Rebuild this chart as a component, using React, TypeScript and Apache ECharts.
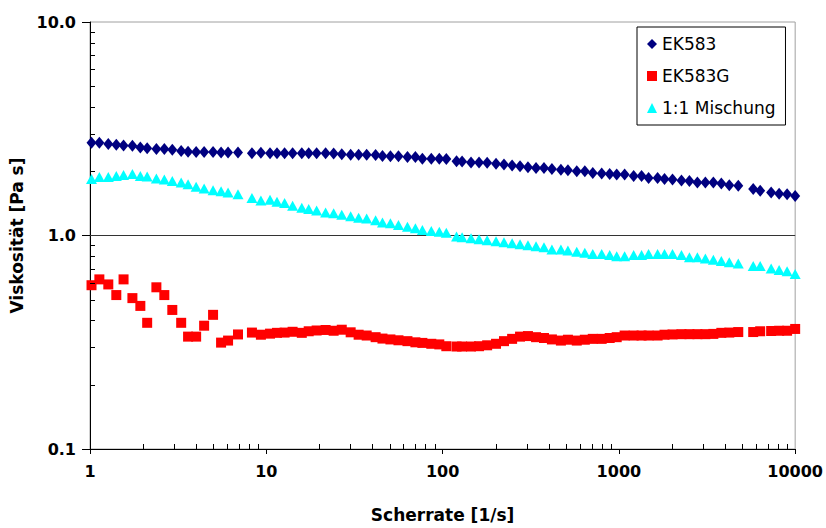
import React, { useEffect, useRef } from "react";
import * as echarts from "echarts";

// Scherrate [1/s]
const shearRate = [
  1.02, 1.13, 1.27, 1.41, 1.55, 1.74, 1.93, 2.11, 2.38, 2.64,
  2.93, 3.29, 3.6, 4.0, 4.44, 4.99, 5.54, 6.07, 6.91, 8.29,
  9.32, 10.5, 11.5, 12.7, 14.1, 15.9, 17.4, 19.3, 21.7, 24.1,
  26.8, 30.1, 33.4, 37.1, 41.7, 45.6, 50.6, 56.2, 63.2, 70.1,
  76.8, 86.3, 95.8, 105, 120, 129, 145, 161, 179, 201,
  223, 248, 275, 305, 339, 376, 417, 469, 514, 577,
  641, 711, 799, 887, 972, 1078, 1213, 1345, 1474, 1658,
  1815, 2015, 2265, 2513, 2789, 3095, 3435, 3812, 4230, 4756,
  5781, 6332, 7307, 8110, 9000, 10000,
];

// Viskosität [Pa s]
const ek583 = [
  2.72, 2.72, 2.68, 2.66, 2.64, 2.63, 2.58, 2.56, 2.54, 2.54,
  2.52, 2.49, 2.47, 2.46, 2.46, 2.46, 2.45, 2.45, 2.45, 2.43,
  2.44, 2.43, 2.43, 2.43, 2.43, 2.43, 2.43, 2.43, 2.43, 2.42,
  2.4, 2.39, 2.39, 2.39, 2.38, 2.36, 2.35, 2.35, 2.33, 2.33,
  2.29, 2.29, 2.29, 2.28, 2.23, 2.22, 2.2, 2.2, 2.19, 2.17,
  2.15, 2.13, 2.11, 2.09, 2.07, 2.07, 2.05, 2.03, 2.02, 2.0,
  2.0, 1.96, 1.95, 1.94, 1.93, 1.93, 1.9, 1.9, 1.86, 1.86,
  1.84, 1.83, 1.81, 1.8, 1.77, 1.77, 1.77, 1.75, 1.72, 1.71,
  1.65, 1.62, 1.59, 1.57, 1.56, 1.53,
];

const ek583g = [
  0.585, 0.623, 0.59, 0.526, 0.623, 0.509, 0.468, 0.39, 0.572, 0.526,
  0.448, 0.39, 0.336, 0.336, 0.378, 0.425, 0.315, 0.322, 0.344, 0.351,
  0.343, 0.347, 0.35, 0.351, 0.354, 0.35, 0.356, 0.359, 0.361, 0.358,
  0.362, 0.352, 0.343, 0.34, 0.334, 0.329, 0.326, 0.323, 0.32, 0.316,
  0.314, 0.311, 0.309, 0.303, 0.302, 0.302, 0.302, 0.303, 0.306, 0.311,
  0.32, 0.328, 0.336, 0.338, 0.334, 0.331, 0.326, 0.322, 0.325, 0.322,
  0.325, 0.328, 0.328, 0.331, 0.334, 0.34, 0.34, 0.34, 0.34, 0.34,
  0.343, 0.344, 0.345, 0.345, 0.345, 0.345, 0.346, 0.35, 0.351, 0.353,
  0.353, 0.356, 0.357, 0.358, 0.358, 0.365,
];

const mischung = [
  1.84, 1.88, 1.88, 1.9, 1.92, 1.94, 1.9, 1.89, 1.85, 1.83,
  1.8, 1.77, 1.74, 1.69, 1.66, 1.63, 1.61, 1.59, 1.56, 1.5,
  1.46, 1.47, 1.44, 1.42, 1.38, 1.35, 1.33, 1.31, 1.28, 1.27,
  1.25, 1.23, 1.21, 1.2, 1.18, 1.15, 1.14, 1.12, 1.1, 1.08,
  1.06, 1.05, 1.04, 1.03, 0.99, 0.98, 0.97, 0.96, 0.95, 0.94,
  0.93, 0.92, 0.91, 0.9, 0.89, 0.88, 0.86, 0.86, 0.85, 0.84,
  0.83, 0.82, 0.82, 0.81, 0.8, 0.8, 0.81, 0.81, 0.82, 0.82,
  0.82, 0.82, 0.81, 0.79, 0.79, 0.78, 0.77, 0.76, 0.75, 0.74,
  0.72, 0.72, 0.7, 0.69, 0.68, 0.66,
];

const seriesNames = ["EK583", "EK583G", "1:1 Mischung"];
const seriesColors = ["#000080", "#ff0000", "#00ffff"];
const xDecades = [1, 10, 100, 1000];
const yDecades = [0.1, 1];
const minorSteps = [2, 3, 4, 5, 6, 7, 8, 9];

const FONT = "DejaVu Sans";

export default function App() {
  const ref = useRef<HTMLDivElement>(null);

  useEffect(() => {
    document.body.style.margin = "0";
    const chart = echarts.init(ref.current as HTMLDivElement, null, { renderer: "svg" });

    const pairs = (ys: number[]) => shearRate.map((x, i) => [x, ys[i]]);
    const minorX: number[][] = [];
    xDecades.forEach((d) => minorSteps.forEach((k) => minorX.push([d * k, 0.1])));
    const minorY: number[][] = [];
    yDecades.forEach((d) => minorSteps.forEach((k) => minorY.push([1, +(d * k).toFixed(3)])));

    const tickLine = (dir: "x" | "y") => (params: any, api: any) => {
      const p = api.coord([api.value(0), api.value(1)]);
      if (dir === "x") {
        const x = Math.round(p[0]) + 0.5;
        return {
          type: "line",
          shape: { x1: x, y1: p[1], x2: x, y2: p[1] - 5 },
          style: { stroke: "#000", lineWidth: 1 },
        };
      }
      const y = Math.round(p[1]) + 0.5;
      return {
        type: "line",
        shape: { x1: p[0], y1: y, x2: p[0] + 5, y2: y },
        style: { stroke: "#000", lineWidth: 1 },
      };
    };

    const option: any = {
      animation: false,
      backgroundColor: "#fff",
      textStyle: { fontFamily: FONT },
      grid: {
        left: 90,
        right: 29,
        top: 22,
        bottom: 73,
        show: true,
        borderColor: "#a0a0a0",
        borderWidth: 1,
        backgroundColor: "transparent",
      },
      legend: {
        data: [
          { name: seriesNames[0], icon: "diamond" },
          { name: seriesNames[1], icon: "rect" },
          { name: seriesNames[2], icon: "triangle" },
        ],
        orient: "vertical",
        left: 637,
        top: 27,
        padding: [7, 10, 7, 10],
        itemGap: 12,
        itemWidth: 10,
        itemHeight: 10,
        borderColor: "#000",
        borderWidth: 1,
        backgroundColor: "#fff",
        selectedMode: false,
        textStyle: { fontFamily: FONT, fontSize: 17, color: "#000", lineHeight: 20 },
      },
      xAxis: {
        type: "log",
        logBase: 10,
        min: 1,
        max: 10000,
        name: "Scherrate [1/s]",
        nameLocation: "middle",
        nameGap: 57,
        nameTextStyle: { fontFamily: FONT, fontSize: 17, fontWeight: "bold", color: "#000" },
        axisLine: { show: true, lineStyle: { color: "#000", width: 1 } },
        axisTick: { show: true, length: 5, lineStyle: { color: "#000" } },
        axisLabel: {
          margin: 14,
          fontFamily: FONT,
          fontSize: 16,
          fontWeight: "bold",
          color: "#000",
          formatter: (v: number) => String(Math.round(v)),
        },
        splitLine: { show: false },
      },
      yAxis: {
        type: "log",
        logBase: 10,
        min: 0.1,
        max: 10,
        name: "Viskosität [Pa s]",
        nameLocation: "middle",
        nameGap: 53,
        nameTextStyle: { fontFamily: FONT, fontSize: 17, fontWeight: "bold", color: "#000" },
        axisLine: { show: true, lineStyle: { color: "#000", width: 1 } },
        axisTick: { show: true, length: 8, lineStyle: { color: "#000" } },
        axisLabel: {
          margin: 14,
          fontFamily: FONT,
          fontSize: 16,
          fontWeight: "bold",
          color: "#000",
          formatter: (v: number) => v.toFixed(1),
        },
        splitLine: { show: false },
      },
      series: [
        {
          name: seriesNames[0],
          type: "scatter",
          symbol: "diamond",
          symbolSize: [10, 12],
          clip: false,
          itemStyle: { color: seriesColors[0], opacity: 1 },
          data: pairs(ek583),
          z: 4,
          markLine: {
            silent: true,
            symbol: "none",
            label: { show: false },
            lineStyle: { color: "#333", width: 1, type: "solid" },
            data: [{ yAxis: 1 }],
            z: 1,
          },
        },
        {
          name: seriesNames[1],
          type: "scatter",
          symbol: "rect",
          symbolSize: 10,
          clip: false,
          itemStyle: { color: seriesColors[1], opacity: 1 },
          data: pairs(ek583g),
          z: 4,
        },
        {
          name: seriesNames[2],
          type: "scatter",
          symbol: "triangle",
          symbolSize: [11, 10],
          clip: false,
          itemStyle: { color: seriesColors[2], opacity: 1 },
          data: pairs(mischung),
          z: 4,
        },
        {
          name: "minorX",
          type: "custom",
          silent: true,
          clip: false,
          data: minorX,
          renderItem: tickLine("x"),
          z: 5,
        },
        {
          name: "minorY",
          type: "custom",
          silent: true,
          clip: false,
          data: minorY,
          renderItem: tickLine("y"),
          z: 5,
        },
      ],
    };

    chart.setOption(option);
    return () => chart.dispose();
  }, []);

  return <div ref={ref} style={{ width: 826, height: 528 }} />;
}
